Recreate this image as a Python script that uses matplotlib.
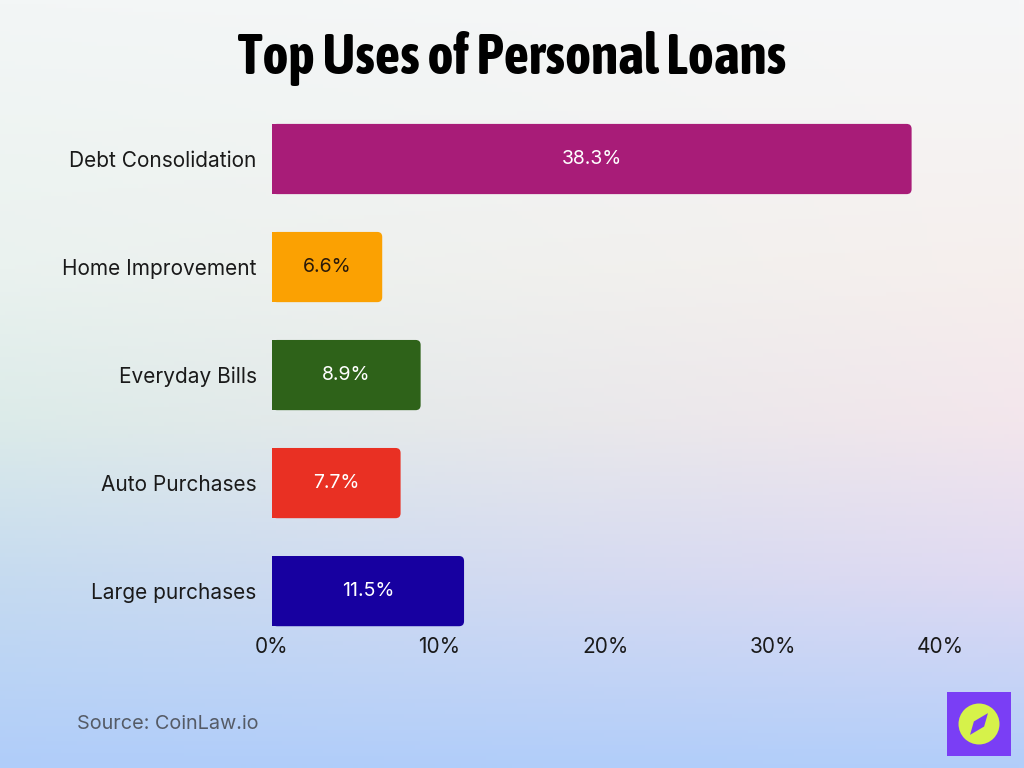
import numpy as np
import matplotlib.pyplot as plt
from matplotlib.patches import FancyBboxPatch, Rectangle, Circle, Polygon
from matplotlib import font_manager

categories = ['Debt Consolidation', 'Home Improvement', 'Everyday Bills', 'Auto Purchases', 'Large purchases']
values = [38.3, 6.6, 8.9, 7.7, 11.5]
colors = ['#a81c78', '#fba102', '#2e6219', '#e93023', '#1700a0']
label_colors = ['white', '#2a1a0a', 'white', 'white', 'white']
xticks = [0, 10, 20, 30, 40]
xtick_labels = ['0%', '10%', '20%', '30%', '40%']

fonts = font_manager.fontManager.ttflist
names = {f.name for f in fonts}
body_font = 'Inter' if 'Inter' in names else 'DejaVu Sans'

# look for a condensed / narrow bold face for the title
title_kw = dict(family='DejaVu Sans', fontweight='bold')
for f in fonts:
    if ('Condensed' in f.name or 'Narrow' in f.name) and f.weight in (700, 'bold'):
        title_kw = dict(family=f.name, fontweight='bold')
        break
else:
    for f in fonts:
        if f.stretch in ('condensed', 'semi-condensed') and f.weight in (700, 'bold'):
            title_kw = dict(family=f.name, fontweight='bold', fontstretch=f.stretch)
            break
    else:
        if 'Roboto' in names:
            title_kw = dict(family='Roboto', fontweight='black')

W, H = 1024, 768
fig = plt.figure(figsize=(W / 100, H / 100), dpi=100)

# background gradient (left column / right column colour stops)
stops = [0.0, 0.35, 0.55, 0.75, 1.0]
left_col = np.array([[243, 246, 246], [234, 242, 239], [220, 235, 233], [198, 219, 240], [176, 205, 250]]) / 255
right_col = np.array([[246, 247, 248], [246, 239, 237], [243, 230, 236], [224, 218, 242], [178, 206, 250]]) / 255
ny, nx = 200, 200
ys = np.linspace(0, 1, ny)
xs = np.linspace(0, 1, nx)
lc = np.stack([np.interp(ys, stops, left_col[:, k]) for k in range(3)], axis=1)
rc = np.stack([np.interp(ys, stops, right_col[:, k]) for k in range(3)], axis=1)
img = lc[:, None, :] * (1 - xs[None, :, None]) + rc[:, None, :] * xs[None, :, None]
bg = fig.add_axes([0, 0, 1, 1])
bg.imshow(np.clip(img, 0, 1), extent=[0, 1, 0, 1], aspect='auto', origin='upper')
bg.axis('off')

# main chart axes: 0% at x=272, 40% at x=940
left, right = 272 / W, 940 / W
ax_top, ax_bot = 105, 630
ax = fig.add_axes([left, 1 - ax_bot / H, right - left, (ax_bot - ax_top) / H])
ax.patch.set_alpha(0)
y = np.arange(len(categories))
bars = ax.barh(y, values, height=0.65, color=colors)
ax.set_xlim(0, 40)
ax.set_ylim(4.36, -0.5)

# rounded right corners
r = 0.3
for bar, c in zip(bars, colors):
    x0, y0 = bar.get_x(), bar.get_y()
    w, h = bar.get_width(), bar.get_height()
    bar.set_visible(False)
    ax.add_patch(FancyBboxPatch((x0, y0), w, h, boxstyle='round,pad=0,rounding_size=%f' % r,
                                mutation_aspect=16.7 / 108, facecolor=c, edgecolor='none'))
    ax.add_patch(Rectangle((x0, y0), w / 2, h, facecolor=c, edgecolor='none'))

for yi, v, lcol in zip(y, values, label_colors):
    ax.text(v / 2, yi, f'{v}%', ha='center', va='center', color=lcol,
            fontsize=14, family=body_font)

ax.set_yticks(y)
ax.set_yticklabels(categories, fontsize=15, family=body_font, color='#1a1a1a')
ax.set_xticks(xticks)
ax.set_xticklabels(xtick_labels, fontsize=15, family=body_font, color='#1a1a1a')
ax.tick_params(length=0, axis='y', pad=11)
ax.tick_params(length=0, axis='x', pad=5)
for s in ax.spines.values():
    s.set_visible(False)

fig.text(0.5, 1 - 58 / H, 'Top Uses of Personal Loans', ha='center', va='center',
         fontsize=40, color='black', **title_kw)
fig.text(77 / W, 1 - 724 / H, 'Source: CoinLaw.io', ha='left', va='center',
         fontsize=14.3, family=body_font, color='#555b66')

# logo
lg = fig.add_axes([947 / W, 1 - 756 / H, 64 / W, 64 / H])
lg.set_xlim(0, 1)
lg.set_ylim(0, 1)
lg.axis('off')
lg.add_patch(Rectangle((0, 0), 1, 1, facecolor='#7a3ef5', edgecolor='none'))
lg.add_patch(Circle((0.5, 0.5), 0.32, facecolor='#d6f24a', edgecolor='none'))
lg.add_patch(Polygon([(0.64, 0.67), (0.58, 0.46), (0.36, 0.33), (0.42, 0.54)],
                     facecolor='#7a3ef5', edgecolor='none'))

fig.savefig('out.png', dpi=100)
